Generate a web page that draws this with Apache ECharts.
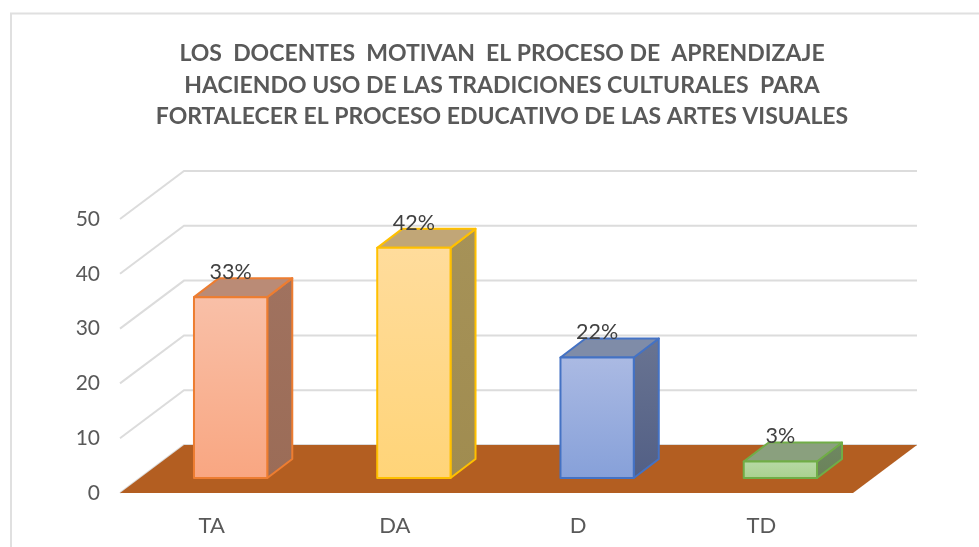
<!DOCTYPE html>
<html>

<head>
    <meta charset="utf-8">
    <script src="https://cdn.jsdelivr.net/npm/echarts@6/dist/echarts.min.js"></script>
    <style>
        html, body { margin: 0; padding: 0; background: #fff; }
        #main { width: 979px; height: 547px; }
    </style>
</head>

<body>
    <div id="main"></div>
    <script>
        var categories = ['TA', 'DA', 'D', 'TD'];
        var values = [33, 42, 22, 3];
        var yTicks = [0, 10, 20, 30, 40, 50];
        var titleLines = [
            'LOS  DOCENTES  MOTIVAN  EL PROCESO DE  APRENDIZAJE',
            'HACIENDO USO DE LAS TRADICIONES CULTURALES  PARA',
            'FORTALECER EL PROCESO EDUCATIVO DE LAS ARTES VISUALES'
        ];

        // face colours per bar: front top, front bottom, border, top face, side top, side bottom
        var barColors = [
            ['#f9c0a8', '#f9a681', '#ed7d31', '#ba8b76', '#a0725f', '#9b6c57'],
            ['#ffdc9c', '#ffd478', '#ffc000', '#c1a677', '#a69258', '#a08c50'],
            ['#abbae3', '#86a0d9', '#4472c4', '#7f8ca8', '#697492', '#525f85'],
            ['#b7d9a6', '#a9d18e', '#70ad47', '#8aa07e', '#6f8862', '#6a8259']
        ];

        var depthX = 64, depthY = 48;       // floor depth
        var barOffX = 19, barOffY = 15;     // bar front face sits inside the floor
        var barDepthX = 25, barDepthY = 19;

        var myChart = echarts.init(document.getElementById('main'));

        function renderWall(params, api) {
            var cs = params.coordSys;
            var y = api.coord([0, api.value(0)])[1];
            var x0 = cs.x, x1 = cs.x + cs.width;
            var shapes = [{
                type: 'polyline',
                shape: { points: [[x0, y], [x0 + depthX, y - depthY], [x1 + depthX, y - depthY]] },
                style: { fill: null, stroke: '#dcdcdc', lineWidth: 2 }
            }];
            if (api.value(0) === 0) {
                shapes.push({
                    type: 'polygon',
                    shape: { points: [[x0, y], [x0 + depthX, y - depthY], [x1 + depthX, y - depthY], [x1, y]] },
                    style: { fill: '#b35e21' }
                });
            }
            return { type: 'group', children: shapes };
        }

        function renderBar(params, api) {
            var i = api.value(0), v = api.value(1);
            var c = barColors[i];
            var base = api.coord([i, 0]);
            var top = api.coord([i, v]);
            var w = api.size([1, 0])[0] * 0.4;
            var l = base[0] + barOffX - w / 2, r = l + w;
            var b = base[1] - barOffY, t = top[1] - barOffY;
            var dx = barDepthX, dy = barDepthY;
            var border = { stroke: c[2], lineWidth: 2, lineJoin: 'round' };
            return {
                type: 'group',
                children: [{
                    type: 'polygon',
                    shape: { points: [[r, t], [r + dx, t - dy], [r + dx, b - dy], [r, b]] },
                    style: Object.assign({
                        fill: new echarts.graphic.LinearGradient(0, 0, 0, 1, [
                            { offset: 0, color: c[4] }, { offset: 1, color: c[5] }
                        ])
                    }, border)
                }, {
                    type: 'polygon',
                    shape: { points: [[l, t], [l + dx, t - dy], [r + dx, t - dy], [r, t]] },
                    style: Object.assign({ fill: c[3] }, border)
                }, {
                    type: 'polygon',
                    shape: { points: [[l, t], [r, t], [r, b], [l, b]] },
                    style: Object.assign({
                        fill: new echarts.graphic.LinearGradient(0, 0, 0, 1, [
                            { offset: 0, color: c[0] }, { offset: 1, color: c[1] }
                        ])
                    }, border)
                }, {
                    type: 'text',
                    style: {
                        text: v + '%',
                        x: (l + r) / 2,
                        y: t - 25,
                        align: 'center',
                        verticalAlign: 'middle',
                        fill: '#404040',
                        font: '21.5px Lato'
                    }
                }]
            };
        }

        var option = {
            animation: false,
            backgroundColor: '#fff',
            graphic: [{
                type: 'rect',
                silent: true,
                z: -10,
                // frame is cut off by the right and bottom of the picture
                shape: { x: 11, y: 13.5, width: 1000, height: 560 },
                style: { fill: '#fff', stroke: '#e0e0e0', lineWidth: 2 }
            }],
            title: {
                text: titleLines.join('\n'),
                left: 497,
                top: 33,
                textAlign: 'center',
                textStyle: {
                    fontFamily: 'Lato',
                    fontWeight: 'bold',
                    fontSize: 23,
                    lineHeight: 31.5,
                    color: '#595959'
                }
            },
            grid: { left: 120, right: 126, top: 219, bottom: 54, containLabel: false },
            xAxis: {
                type: 'category',
                data: categories,
                axisLine: { show: false },
                axisTick: { show: false },
                splitLine: { show: false },
                axisLabel: { color: '#595959', fontFamily: 'Lato', fontSize: 22, margin: 22 }
            },
            yAxis: {
                type: 'value',
                min: 0,
                max: 50,
                interval: 10,
                axisLine: { show: false },
                axisTick: { show: false },
                splitLine: { show: false },
                axisLabel: { color: '#595959', fontFamily: 'Lato', fontSize: 21, margin: 20, padding: [4, 0, 0, 0] }
            },
            series: [{
                type: 'custom',
                renderItem: renderWall,
                encode: { y: 0 },
                data: yTicks,
                z: 1,
                silent: true
            }, {
                type: 'custom',
                renderItem: renderBar,
                encode: { x: 0, y: 1 },
                data: values.map(function (v, i) { return [i, v]; }),
                z: 2,
                silent: true
            }]
        };
        myChart.setOption(option);
    </script>
</body>

</html>
